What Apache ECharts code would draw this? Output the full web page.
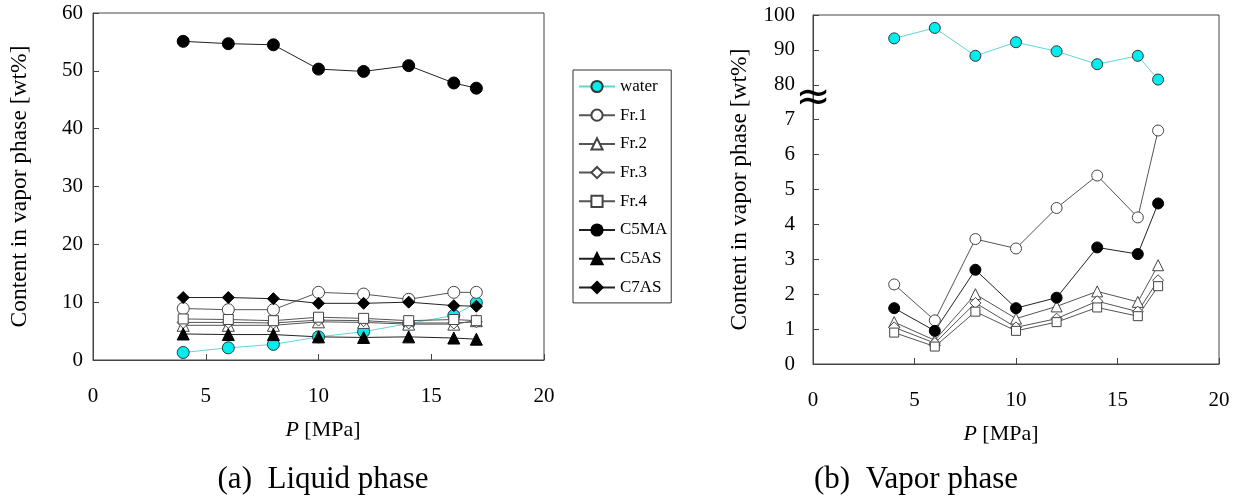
<!DOCTYPE html>
<html>
<head>
<meta charset="utf-8">
<script src="https://cdn.jsdelivr.net/npm/echarts@6/dist/echarts.min.js"></script>
<style>
	body { margin: 0; background: #fff; }
	#chart { width: 1241px; height: 499px; }
</style>
</head>
<body>
<div id="chart"></div>
<script>
	// pressure points, same for both phases
	const pressure = [4, 6, 8, 10, 12, 14, 16, 17];
	const names = ['water', 'Fr.1', 'Fr.2', 'Fr.3', 'Fr.4', 'C5MA', 'C5AS', 'C7AS'];

	// (a) liquid phase [wt%]
	const liqWater = [1.3, 2.1, 2.7, 4.0, 4.9, 6.3, 7.7, 9.9];
	const liqFr1 = [8.9, 8.7, 8.7, 11.7, 11.4, 10.5, 11.7, 11.7];
	const liqFr2 = [6.0, 6.0, 6.0, 6.6, 6.5, 6.2, 6.2, 6.8];
	const liqFr3 = [6.5, 6.5, 6.4, 6.9, 6.8, 6.4, 6.4, 6.6];
	const liqFr4 = [7.1, 7.0, 6.8, 7.4, 7.2, 6.8, 7.0, 6.8];
	const liqC5MA = [55.1, 54.7, 54.5, 50.3, 49.9, 50.9, 47.9, 47.0];
	const liqC5AS = [4.5, 4.4, 4.4, 4.0, 3.9, 4.0, 3.8, 3.6];
	const liqC7AS = [10.8, 10.8, 10.6, 9.8, 9.8, 10.0, 9.4, 9.3];

	// (b) vapor phase [wt%]
	const vapWater = [93.3, 96.3, 88.3, 92.2, 89.6, 85.9, 88.3, 81.5];
	const vapFr1 = [2.28, 1.25, 3.58, 3.31, 4.47, 5.40, 4.20, 6.69];
	const vapFr2 = [1.2, 0.68, 2.0, 1.3, 1.65, 2.08, 1.78, 2.83];
	const vapFr3 = [1.05, 0.6, 1.75, 1.05, 1.3, 1.8, 1.5, 2.4];
	const vapFr4 = [0.9, 0.5, 1.5, 0.95, 1.2, 1.62, 1.37, 2.23];
	const vapC5MA = [1.6, 0.95, 2.7, 1.6, 1.9, 3.34, 3.15, 4.6];

	const xTicks = [0, 5, 10, 15, 20];
	const liqTicks = [0, 10, 20, 30, 40, 50, 60];
	const vapTicks = [0, 1, 2, 3, 4, 5, 6, 7, 80, 90, 100];

	// broken vapor axis: 0..7 as is, 70..100 squeezed to 7..10
	function brk(v) { return v > 7 ? 7 + (v - 70) / 10 : v; }
	function unbrk(v) { return v > 7 ? Math.round(70 + (v - 7) * 10) : v; }

	const FONT = 'Liberation Serif';
	const styles = {
		'water': { symbol: 'circle', fill: '#00eeee', border: '#333', line: '#5fd6d6' },
		'Fr.1': { symbol: 'circle', fill: '#fff', border: '#444', line: '#555' },
		'Fr.2': { symbol: 'triangle', fill: '#fff', border: '#444', line: '#555' },
		'Fr.3': { symbol: 'diamond', fill: '#fff', border: '#444', line: '#555' },
		'Fr.4': { symbol: 'rect', fill: '#fff', border: '#444', line: '#555' },
		'C5MA': { symbol: 'circle', fill: '#000', border: '#000', line: '#222' },
		'C5AS': { symbol: 'triangle', fill: '#000', border: '#000', line: '#222' },
		'C7AS': { symbol: 'diamond', fill: '#000', border: '#000', line: '#222' }
	};

	function makeSeries(name, values, axis, size) {
		let s = styles[name];
		return {
			name: name,
			type: 'line',
			xAxisIndex: axis,
			yAxisIndex: axis,
			data: pressure.map((p, i) => [p, values[i]]),
			symbol: s.symbol,
			symbolSize: s.symbol == 'rect' ? size - 2 : size,
			showAllSymbol: true,
			animation: false,
			lineStyle: { color: s.line, width: 1 },
			itemStyle: { color: s.fill, borderColor: s.border, borderWidth: 1 }
		};
	}

	const liqData = [liqWater, liqFr1, liqFr2, liqFr3, liqFr4, liqC5MA, liqC5AS, liqC7AS];
	const vapData = [vapWater.map(brk), vapFr1, vapFr2, vapFr3, vapFr4, vapC5MA];

	let series = [];
	names.forEach((n, i) => series.push(makeSeries(n, liqData[i], 0, 12)));
	names.slice(0, 6).forEach((n, i) => series.push(makeSeries(n, vapData[i], 1, 11)));

	function xAxis(grid, padding) {
		return {
			type: 'value', gridIndex: grid, min: 0, max: 20, interval: 5,
			name: '{i|P} [MPa]', nameLocation: 'middle', nameGap: 59,
			nameTextStyle: {
				fontFamily: FONT, fontSize: 22, color: '#000', padding: padding,
				rich: { i: { fontFamily: FONT, fontSize: 22, fontStyle: 'italic', color: '#000' } }
			},
			axisLine: { lineStyle: { color: '#444' } },
			axisTick: { inside: true, length: 6, lineStyle: { color: '#444' } },
			axisLabel: { margin: 26, fontFamily: FONT, fontSize: 21, color: '#000',
				customValues: xTicks },
			splitLine: { show: false }
		};
	}

	function yAxis(grid, min, max, step, margin, fmt) {
		return {
			type: 'value', gridIndex: grid, min: min, max: max, interval: step,
			name: 'Content in vapor phase [wt%]', nameLocation: 'middle', nameGap: 61,
			nameTextStyle: { fontFamily: FONT, fontSize: 23.5, color: '#000' },
			axisLine: { lineStyle: { color: '#444' } },
			axisTick: { inside: true, length: 6, lineStyle: { color: '#444' } },
			axisLabel: { margin: margin, fontFamily: FONT, fontSize: 21, color: '#000', formatter: fmt },
			splitLine: { show: false }
		};
	}

	const option = {
		backgroundColor: '#fff',
		title: [
			{ text: '(a)  Liquid phase', left: 318, top: 459, textAlign: 'center',
				textStyle: { fontFamily: FONT, fontSize: 31, fontWeight: 'normal', color: '#000' } },
			{ text: '(b)  Vapor phase', left: 911, top: 459, textAlign: 'center',
				textStyle: { fontFamily: FONT, fontSize: 31, fontWeight: 'normal', color: '#000' } }
		],
		legend: {
			data: names,
			orient: 'vertical',
			left: 573,
			top: 70,
			padding: [8, 4, 7, 5],
			itemWidth: 36,
			itemHeight: 14,
			itemGap: 11.7,
			borderColor: '#333',
			borderWidth: 1,
			selectedMode: false,
			textStyle: { fontFamily: FONT, fontSize: 17, color: '#000', lineHeight: 17 }
		},
		grid: [
			{ left: 93, top: 13, width: 451, height: 347, show: true, borderColor: '#444', borderWidth: 1 },
			{ left: 813, top: 15, width: 406, height: 349, show: true, borderColor: '#444', borderWidth: 1 }
		],
		xAxis: [xAxis(0, [0, 0, 0, 9]), xAxis(1, [0, 30, 0, 0])],
		yAxis: [
			yAxis(0, 0, 60, 10, 10, null),
			yAxis(1, 0, 10, 1, 18, function (v) { return unbrk(v); })
		],
		graphic: [
			{ type: 'text', x: 813, y: 99, z: 100,
				style: { text: '\u2248', fontSize: 42, fontFamily: 'DejaVu Sans', fill: '#000',
					align: 'center', verticalAlign: 'middle' } }
		],
		series: series
	};

	let chart = echarts.init(document.getElementById('chart'));
	chart.setOption(option);
	window.addEventListener('resize', function () {
		chart.resize();
	});
</script>
</body>
</html>
